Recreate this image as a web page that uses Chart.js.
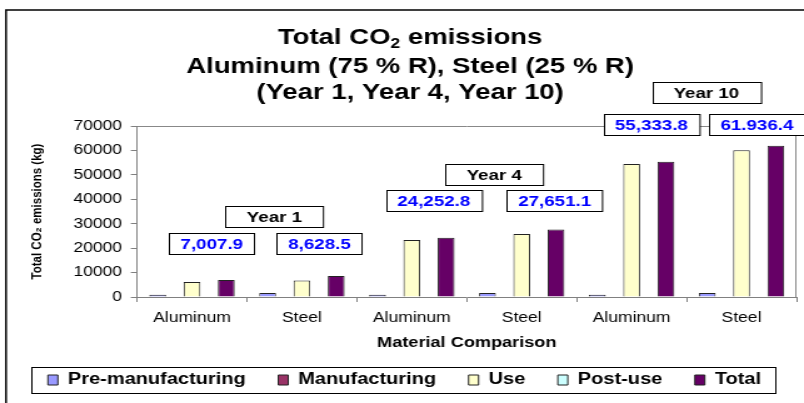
<!DOCTYPE html>
<html>
<head>
<meta charset="utf-8">
<title>Total CO2 emissions</title>
<script src="https://cdn.jsdelivr.net/npm/chart.js@4.4.1/dist/chart.umd.min.js"></script>
<style>
  html, body { margin: 0; padding: 0; background: #fff; overflow: hidden; }
</style>
</head>
<body>
<!-- the original picture is stretched sideways, so the canvas is drawn narrow and widened -->
<canvas id="chart" width="643" height="403" style="display:block;width:804px;height:403px"></canvas>
<script>
// values
const categories = ['Aluminum', 'Steel', 'Aluminum', 'Steel', 'Aluminum', 'Steel'];
const preManufacturing = [900, 1600, 900, 1600, 900, 1600];
const manufacturing = [0, 0, 0, 0, 0, 0];
const use = [6100, 6780, 23350, 25800, 54430, 60090];
const postUse = [0, 250, 0, 250, 0, 250];
const total = [7007.9, 8628.5, 24252.8, 27651.1, 55333.8, 61936.4];
const yTicks = [0, 10000, 20000, 30000, 40000, 50000, 60000, 70000];

// boxed notes: text, position on the category axis, height in kg
const totalNotes = ['7,007.9', '8,628.5', '24,252.8', '27,651.1', '55,333.8', '61.936.4'];
const totalNoteAt = [0.18, 1.16, 2.2, 3.3, 4.18, 5.14];
const totalNoteKg = [21700, 21700, 39300, 39300, 70600, 70600];
const yearNotes = ['Year 1', 'Year 4', 'Year 10'];
const yearNoteAt = [0.75, 2.75, 4.68];
const yearNoteKg = [32750, 49950, 83700];

const FONT = 'Arial, "Liberation Sans", sans-serif';

function noteBox(ctx, text, cx, cy, padX, h, color) {
  const w = ctx.measureText(text).width + padX * 2;
  const x = Math.round(cx - w / 2) + 0.5, y = Math.round(cy - h / 2) + 0.5;
  ctx.fillStyle = '#fff';
  ctx.fillRect(x, y, w, h);
  ctx.strokeStyle = '#000';
  ctx.lineWidth = 1;
  ctx.strokeRect(x, y, w, h);
  ctx.fillStyle = color;
  ctx.fillText(text, cx, cy + 1);
}

const extras = {
  id: 'extras',
  afterDraw(chart) {
    const ctx = chart.ctx;
    const xs = chart.scales.x, ys = chart.scales.y;
    const area = chart.chartArea;
    ctx.save();

    // outer frame (only top and left show)
    ctx.strokeStyle = '#000';
    ctx.lineWidth = 1.5;
    ctx.beginPath();
    ctx.moveTo(4.8, 403);
    ctx.lineTo(4.8, 10);
    ctx.lineTo(650, 10);
    ctx.stroke();

    // plot area right edge
    ctx.strokeStyle = '#888';
    ctx.lineWidth = 1;
    ctx.beginPath();
    ctx.moveTo(area.right - 0.5, area.top);
    ctx.lineTo(area.right - 0.5, area.bottom);
    ctx.stroke();

    // title with subscript
    ctx.fillStyle = '#000';
    ctx.textBaseline = 'middle';
    ctx.textAlign = 'left';
    const cx = 328;
    const big = 'bold 22px ' + FONT, small = 'bold 14px ' + FONT;
    ctx.font = big;
    const a = ctx.measureText('Total CO').width;
    const c = ctx.measureText(' emissions').width;
    ctx.font = small;
    const b = ctx.measureText('2').width;
    let x0 = cx - (a + b + c) / 2;
    ctx.font = big;
    ctx.fillText('Total CO', x0, 38);
    ctx.font = small;
    ctx.fillText('2', x0 + a, 44);
    ctx.font = big;
    ctx.fillText(' emissions', x0 + a + b, 38);
    ctx.textAlign = 'center';
    ctx.fillText('Aluminum (75 % R), Steel (25 % R)', cx, 67);
    ctx.fillText('(Year 1, Year 4, Year 10)', cx, 93);

    // notes
    ctx.font = 'bold 15px ' + FONT;
    totalNotes.forEach((t, i) => {
      noteBox(ctx, t, xs.getPixelForValue(totalNoteAt[i]), ys.getPixelForValue(totalNoteKg[i]), 9, 21, '#0000ff');
    });
    yearNotes.forEach((t, i) => {
      noteBox(ctx, t, xs.getPixelForValue(yearNoteAt[i]), ys.getPixelForValue(yearNoteKg[i]), 17, 21, '#000');
    });

    // frame round the legend
    const hb = chart.legend.legendHitBoxes;
    if (hb && hb.length) {
      const last = hb[hb.length - 1];
      const mid = hb[0].top + hb[0].height / 2;
      const l = hb[0].left - 13.6, r = last.left + last.width + 11;
      ctx.strokeStyle = '#000';
      ctx.lineWidth = 1;
      ctx.strokeRect(Math.round(l) + 0.5, Math.round(mid - 13) + 0.5, Math.round(r - l), 26);
    }
    ctx.restore();
  }
};

const bar = (label, data, color) => ({
  label, data,
  backgroundColor: color,
  borderColor: '#222',
  borderWidth: 1
});

new Chart(document.getElementById('chart'), {
  type: 'bar',
  data: {
    labels: categories,
    datasets: [
      bar('Pre-manufacturing', preManufacturing, '#9999ff'),
      bar('Manufacturing', manufacturing, '#993366'),
      bar('Use', use, '#ffffcc'),
      bar('Post-use', postUse, '#ccffff'),
      bar('Total', total, '#660066')
    ]
  },
  options: {
    responsive: false,
    animation: false,
    devicePixelRatio: 1,
    layout: { padding: { left: 10, right: 6, top: 126, bottom: 5 } },
    datasets: { bar: { categoryPercentage: 0.78, barPercentage: 0.98 } },
    scales: {
      x: {
        afterFit: s => { s.height = 49; },
        border: { color: '#808080' },
        grid: { drawOnChartArea: false, tickLength: 5, tickColor: '#808080' },
        ticks: { color: '#000', padding: 8, font: { family: FONT, size: 14 } },
        title: {
          display: true, text: 'Material Comparison', color: '#000',
          font: { family: FONT, size: 14.5, weight: 'bold' },
          padding: { top: 0, bottom: -5.7 }
        }
      },
      y: {
        min: 0, max: 70000,
        afterFit: s => { s.width = 99.6; },
        afterBuildTicks: s => { s.ticks = yTicks.map(v => ({ value: v })); },
        border: { color: '#808080' },
        grid: {
          tickLength: 5, tickColor: '#808080',
          color: c => (c.tick && c.tick.value === 70000 ? '#888' : 'rgba(0,0,0,0)')
        },
        ticks: {
          color: '#000', padding: 7, autoSkip: false,
          font: { family: FONT, size: 14 }, callback: v => String(v)
        },
        title: {
          display: true, text: 'Total CO\u2082 emissions (kg)', color: '#000',
          font: { family: FONT, size: 11.5, weight: 'bold' },
          padding: { top: 12.7, bottom: 0 }
        }
      }
    },
    plugins: {
      title: { display: false },
      tooltip: { enabled: false },
      legend: {
        position: 'bottom',
        labels: {
          boxWidth: 8, boxHeight: 10, padding: 26, color: '#000',
          font: { family: FONT, size: 16, weight: 'bold' }
        }
      }
    }
  },
  plugins: [extras]
});
</script>
</body>
</html>
